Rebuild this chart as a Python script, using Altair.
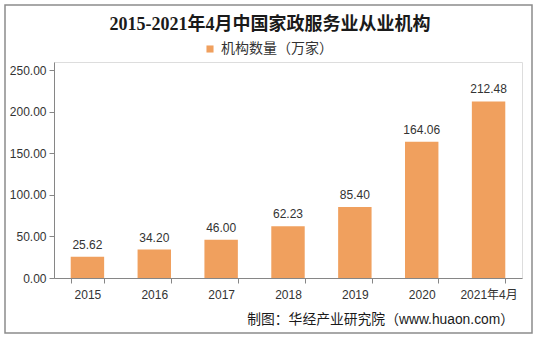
import altair as alt
import pandas as pd

years = ["2015", "2016", "2017", "2018", "2019", "2020", "2021年4月"]
values = [25.62, 34.20, 46.00, 62.23, 85.40, 164.06, 212.48]
series_name = "机构数量（万家）"
title_text = "2015-2021年4月中国家政服务业从业机构"
source_text = "制图：华经产业研究院（www.huaon.com）"
y_ticks = [0, 50, 100, 150, 200, 250]

BAR = "#F0A05E"
FONT = "Liberation Sans, Noto Sans CJK SC"

df = pd.DataFrame({"year": years, "value": values, "series": series_name})

x_enc = alt.X("year:N", sort=years, title=None,
              scale=alt.Scale(paddingInner=0.5, paddingOuter=0.25),
              axis=alt.Axis(labelAngle=0, tickBand="extent", labelFontSize=12,
                            labelColor="#333333", labelFont=FONT, labelPadding=6,
                            domainColor="#868686", tickColor="#868686", tickSize=5))
y_enc = alt.Y("value:Q", title=None,
              scale=alt.Scale(domain=[0, 250]),
              axis=alt.Axis(values=y_ticks, format=".2f", grid=False, labelFontSize=12,
                            labelColor="#333333", labelFont=FONT, labelPadding=3,
                            domainColor="#868686", tickColor="#868686", tickSize=5))

bars = alt.Chart(df).mark_bar(color=BAR).encode(
    x=x_enc, y=y_enc,
    color=alt.Color("series:N", title=None,
                    scale=alt.Scale(range=[BAR]),
                    legend=alt.Legend(orient="none", legendX=149, legendY=-20,
                                      symbolType="square", symbolSize=50,
                                      labelFontSize=14, labelColor="#333333",
                                      labelFont=FONT, symbolStrokeWidth=0)),
)

labels = alt.Chart(df).mark_text(baseline="bottom", dy=-5, fontSize=12,
                                 color="#333333", font=FONT).encode(
    x=alt.X("year:N", sort=years),
    y="value:Q",
    text=alt.Text("value:Q", format=".2f"),
)

one = pd.DataFrame({"t": [title_text]})
title = alt.Chart(one).mark_text(fontSize=18, fontWeight="bold", color="#1a1a1a",
                                 font="Liberation Serif, Noto Sans CJK SC",
                                 align="center", baseline="middle").encode(
    x=alt.value(216), y=alt.value(-37), text="t:N")

src = pd.DataFrame({"t": [source_text]})
source = alt.Chart(src).mark_text(fontSize=13.8, color="#1a1a1a", font=FONT,
                                  align="right", baseline="middle").encode(
    x=alt.value(460), y=alt.value(258), text="t:N")

border = alt.Chart(one).mark_rect(fill=None, stroke="#8c8c8c", strokeWidth=1.5).encode(
    x=alt.value(-49), x2=alt.value(478), y=alt.value(-57), y2=alt.value(271))

chart = alt.layer(border, bars, labels, title, source).properties(
    width=468, height=216,
    autosize=alt.AutoSizeParams(type="none"),
    padding={"left": 54, "top": 62, "right": 17, "bottom": 62},
).configure_view(stroke=None).configure(background="white")

chart.save("out.html", embed_options={"renderer": "svg", "actions": False})
